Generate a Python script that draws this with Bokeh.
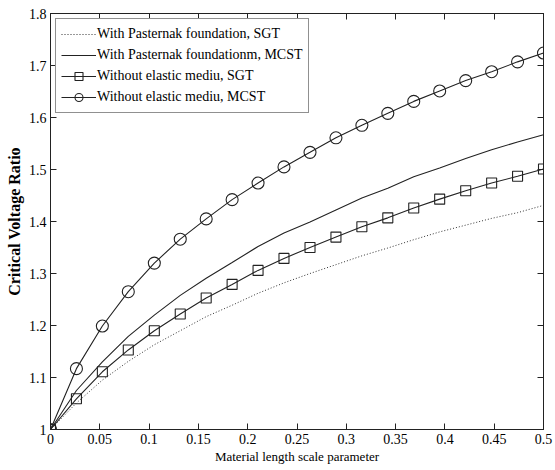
from bokeh.plotting import figure
from bokeh.models import Range1d, LinearAxis, FixedTicker, CustomJSTickFormatter, Legend, LegendItem
from bokeh.embed import file_html
from bokeh.resources import INLINE

# ---- data ----
x_vals = [0.0, 0.0263, 0.0526, 0.0789, 0.1053, 0.1316, 0.1579, 0.1842, 0.2105, 0.2368,
          0.2632, 0.2895, 0.3158, 0.3421, 0.3684, 0.3947, 0.4211, 0.4474, 0.4737, 0.5]
pasternak_sgt = [1.0, 1.051, 1.095, 1.131, 1.163, 1.190, 1.217, 1.239, 1.262, 1.282,
                 1.300, 1.317, 1.334, 1.349, 1.365, 1.380, 1.393, 1.406, 1.417, 1.431]
pasternak_mcst = [1.0, 1.075, 1.130, 1.179, 1.220, 1.258, 1.291, 1.321, 1.352, 1.378,
                  1.399, 1.422, 1.445, 1.464, 1.486, 1.503, 1.521, 1.538, 1.553, 1.567]
without_sgt = [1.0, 1.059, 1.111, 1.153, 1.190, 1.222, 1.253, 1.279, 1.306, 1.329,
               1.350, 1.370, 1.390, 1.407, 1.426, 1.443, 1.459, 1.474, 1.487, 1.501]
without_mcst = [1.0, 1.117, 1.199, 1.265, 1.320, 1.366, 1.405, 1.442, 1.474, 1.505,
                1.533, 1.561, 1.585, 1.608, 1.631, 1.651, 1.671, 1.688, 1.707, 1.724]

series_labels = ["With Pasternak foundation, SGT",
                 "With Pasternak foundationm, MCST",
                 "Without elastic mediu, SGT",
                 "Without elastic mediu, MCST"]

x_ticks = [0, 0.05, 0.1, 0.15, 0.2, 0.25, 0.3, 0.35, 0.4, 0.45, 0.5]
x_tick_labels = ["0", "0.05", "0.1", "0.15", "0.2", "0.25", "0.3", "0.35", "0.4", "0.45", "0.5"]
y_ticks = [1.0, 1.1, 1.2, 1.3, 1.4, 1.5, 1.6, 1.7, 1.8]
y_tick_labels = ["1", "1.1", "1.2", "1.3", "1.4", "1.5", "1.6", "1.7", "1.8"]

x_title = "Material length scale parameter"
y_title = "Critical Voltage Ratio"

FONT = "Liberation Serif"

p = figure(frame_width=493, frame_height=416,
           x_range=Range1d(0, 0.5), y_range=Range1d(1.0, 1.8),
           output_backend="svg", toolbar_location=None,
           min_border_left=50, min_border_right=12, min_border_top=13, min_border_bottom=41)
p.xgrid.visible = False
p.ygrid.visible = False
p.outline_line_color = "#222222"
p.outline_line_width = 1
p.background_fill_color = "white"
p.border_fill_color = "white"

fmt_code = ("for (let i = 0; i < tvals.length; i++) {"
            " if (Math.abs(tvals[i] - tick) < 1e-9) return tlabels[i]; }"
            " return '';")
xfmt = CustomJSTickFormatter(args=dict(tvals=x_ticks, tlabels=x_tick_labels), code=fmt_code)
yfmt = CustomJSTickFormatter(args=dict(tvals=y_ticks, tlabels=y_tick_labels), code=fmt_code)
blank_fmt = CustomJSTickFormatter(code="return '';")


def style_axis(ax, ticks, fmt, show_labels=True):
    ax.ticker = FixedTicker(ticks=ticks)
    ax.formatter = fmt
    ax.major_tick_in = 6
    ax.major_tick_out = 0
    ax.minor_tick_in = 0
    ax.minor_tick_out = 0
    ax.axis_line_color = "#222222"
    ax.major_tick_line_color = "#222222"
    ax.major_label_text_font = FONT
    ax.major_label_text_color = "black"
    ax.major_label_text_font_size = "14px"
    ax.major_label_standoff = 4 if show_labels else 0
    ax.axis_label_text_font = FONT
    ax.axis_label_text_font_style = "normal"
    ax.axis_label_text_font_size = "13px"
    ax.axis_label_text_color = "black"
    ax.axis_label_standoff = 2


style_axis(p.xaxis[0], x_ticks, xfmt)
style_axis(p.yaxis[0], y_ticks, yfmt)
p.xaxis[0].axis_label = x_title
p.yaxis[0].axis_label = y_title
p.yaxis[0].axis_label_text_font_style = "bold"
p.yaxis[0].axis_label_text_font_size = "16px"
p.yaxis[0].major_label_standoff = 4
p.yaxis[0].axis_label_standoff = 3

top_ax = LinearAxis()
style_axis(top_ax, x_ticks, blank_fmt, show_labels=False)
p.add_layout(top_ax, "above")
right_ax = LinearAxis()
style_axis(right_ax, y_ticks, blank_fmt, show_labels=False)
p.add_layout(right_ax, "right")

r1 = p.line(x_vals, pasternak_sgt, line_color="#333333", line_width=1, line_dash="1 2")
r2 = p.line(x_vals, pasternak_mcst, line_color="#222222", line_width=1.1)
r3l = p.line(x_vals, without_sgt, line_color="#222222", line_width=1.1)
r3m = p.scatter(x_vals, without_sgt, marker="square", size=10, line_color="#222222",
                fill_color=None, line_width=1.1)
r4l = p.line(x_vals, without_mcst, line_color="#222222", line_width=1.1)
r4m = p.scatter(x_vals, without_mcst, marker="circle", size=12, line_color="#222222",
                fill_color=None, line_width=1.1)

legend = Legend(items=[
    LegendItem(label=series_labels[0], renderers=[r1]),
    LegendItem(label=series_labels[1], renderers=[r2]),
    LegendItem(label=series_labels[2], renderers=[r3l, r3m]),
    LegendItem(label=series_labels[3], renderers=[r4l, r4m]),
], location="top_left")
legend.margin = 5
legend.padding = 5
legend.spacing = 1
legend.label_height = 20
legend.glyph_height = 20
legend.glyph_width = 35
legend.label_standoff = 1
legend.label_text_font = FONT
legend.label_text_font_size = "14px"
legend.label_text_color = "black"
legend.border_line_color = "#222222"
legend.border_line_width = 1
legend.background_fill_color = "white"
legend.background_fill_alpha = 1
p.add_layout(legend, "center")

open("out.html", "w").write(file_html(p, INLINE))
